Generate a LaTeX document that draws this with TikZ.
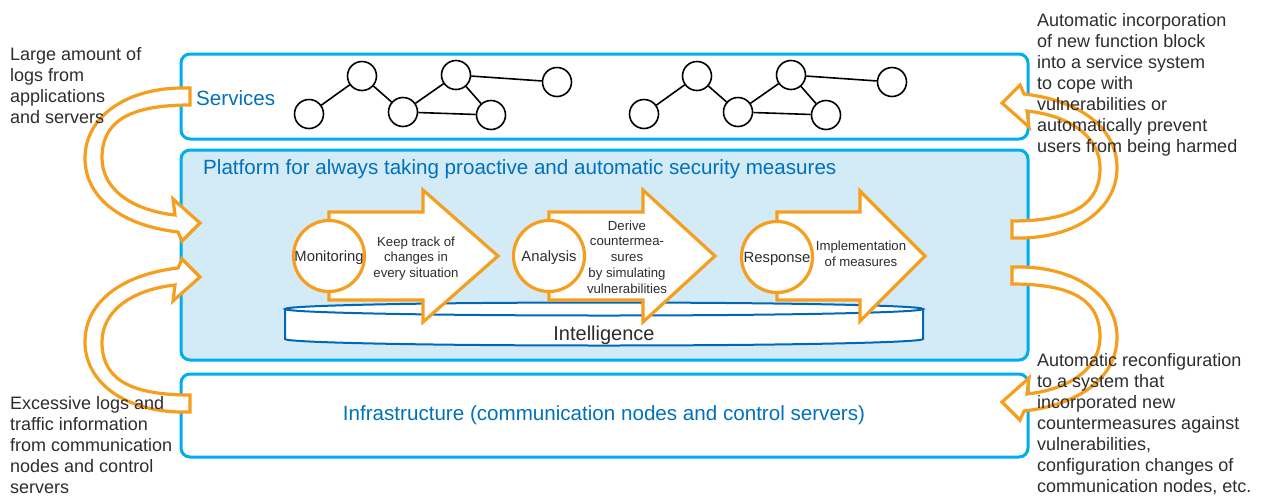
\documentclass[tikz,border=0pt]{standalone}
\usepackage{fontspec}
\setmainfont{Liberation Sans}
\usetikzlibrary{shapes.geometric}

\definecolor{layerframe}{RGB}{0,174,239}
\definecolor{platfill}{RGB}{211,234,247}
\definecolor{titleblue}{RGB}{0,113,188}
\definecolor{diskblue}{RGB}{0,104,183}
\definecolor{flow}{RGB}{246,158,30}
\definecolor{ink}{RGB}{45,45,45}

% curved feedback band with its head; placed by a transformation
\newcommand{\flowband}[1]{%
  \draw[band,#1] (190,88) .. controls (125,86) and (85,118) .. (85,158)
    .. controls (85,200) and (125,226) .. (178,232)
    -- (182,241) -- (200,223) -- (173,199) -- (175,215)
    .. controls (130,210) and (102,188) .. (102,158)
    .. controls (102,124) and (125,105) .. (190,105) -- cycle;}

\begin{document}
\begin{tikzpicture}[x=1pt,y=-1pt,
  layer/.style={draw=layerframe, line width=3pt, rounded corners=9pt, inner sep=0pt},
  gnode/.style={circle, draw=black, line width=1.6pt, fill=white, minimum size=29pt, inner sep=0pt},
  gedge/.style={black, line width=1.6pt},
  stage/.style={circle, draw=flow, line width=3.2pt, fill=white, minimum size=71pt, inner sep=0pt,
    font=\fontsize{14.8}{16}\selectfont, text=ink, text depth=0pt},
  stagearrow/.style={draw=flow, line width=3.2pt, fill=white, line join=miter},
  stagetext/.style={align=center, font=\fontsize{13.2}{15.8}\selectfont, text=ink, inner sep=0pt},
  band/.style={draw=flow, line width=3.2pt, fill=white, line join=miter},
  side/.style={align=left, anchor=north west, font=\fontsize{18}{21}\selectfont, text=ink, inner sep=0pt},
  title/.style={font=\fontsize{20.6}{24}\selectfont, text=titleblue, inner sep=0pt},
  disk/.style={draw=diskblue, line width=2pt, fill=white},
  servicegraph/.pic={
    \node[gnode] (-a) at (0,0) {};
    \node[gnode] (-b) at (53,-38) {};
    \node[gnode] (-c) at (94,-2) {};
    \node[gnode] (-d) at (147,-39) {};
    \node[gnode] (-e) at (182,1) {};
    \node[gnode] (-f) at (248,-32) {};
    \draw[gedge] (-a) -- (-b) (-b) -- (-c) (-c) -- (-d) (-c) -- (-e) (-d) -- (-e) (-d) -- (-f);
  }
]
\useasboundingbox (0,0) rectangle (1261,499);

% three layers
\node[layer, fill=white, minimum width=847pt, minimum height=85pt] (services) at (604.5,96.5) {};
\node[layer, fill=platfill, minimum width=847pt, minimum height=210pt] (platform) at (604.5,255) {};
\node[layer, fill=white, minimum width=847pt, minimum height=83pt] (infra) at (604.5,415.5) {};

\node[title, anchor=base west] (servtitle) at (196,105.5) {Services};
\node[title, anchor=base west] (plattitle) at (203,174.5) {Platform for always taking proactive and automatic security measures};
\node[title, anchor=base] (infratitle) at (604,420.5) {Infrastructure (communication nodes and control servers)};

% service graphs
\pic (gl) at (309,114) {servicegraph};
\pic (gr) at (644,114) {servicegraph};

% intelligence disk
\draw[disk] (285,309) -- (285,339) arc[start angle=180, end angle=0, x radius=319, y radius=6.5] -- (923,309) -- cycle;
\draw[disk] (604,309) ellipse[x radius=319, y radius=6.5];
\node[font=\fontsize{20}{24}\selectfont, text=ink, anchor=base, inner sep=0pt] (intel) at (604,340) {Intelligence};

% stage arrows
\draw[stagearrow] (329,212) -- (423,212) -- (423,190) -- (498,256) -- (423,322) -- (423,300) -- (329,300) -- cycle;
\draw[stagearrow] (549,212) -- (643,212) -- (643,190) -- (715,256) -- (643,322) -- (643,300) -- (549,300) -- cycle;
\draw[stagearrow] (777,212) -- (860,212) -- (860,191) -- (925,256) -- (860,321) -- (860,300) -- (777,300) -- cycle;

\node[stage] (mon) at (329,256) {Monitoring};
\node[stage] (ana) at (549,256) {Analysis};
\node[stage] (res) at (777,257) {Response};

\node[stagetext] (montext) at (416,258.5) {Keep track of\\changes in\\every situation};
\node[stagetext] (anatext) at (627,257) {Derive\\countermea-\\sures\\by simulating\\vulnerabilities};
\node[stagetext] (restext) at (861,253.5) {Implementation\\of measures};

% feedback bands between the layers
\flowband{}
\flowband{cm={1,0,0,-1,(0pt,-500pt)}}
\flowband{cm={-1,0,0,-1,(1202pt,-326pt)}}
\flowband{cm={-1,0,0,1,(1202pt,-179pt)}}

% side notes
\node[side] (tlnote) at (10,47) {Large amount of\\logs from\\applications\\and servers};
\node[side] (blnote) at (10,396) {Excessive logs and\\traffic information\\from communication\\nodes and control\\servers};
\node[side] (trnote) at (1037,13) {Automatic incorporation\\of new function block\\into a service system\\to cope with\\vulnerabilities or\\automatically prevent\\users from being harmed};
\node[side] (brnote) at (1037,353) {Automatic reconfiguration\\to a system that\\incorporated new\\countermeasures against\\vulnerabilities,\\configuration changes of\\communication nodes, etc.};
\end{tikzpicture}
\end{document}
